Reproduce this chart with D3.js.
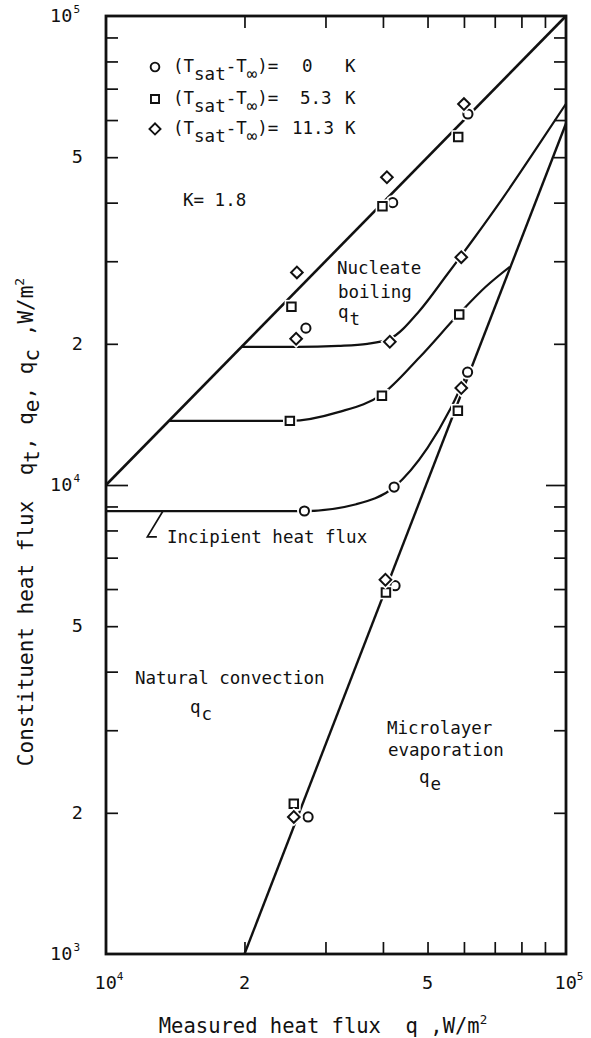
<!DOCTYPE html>
<html><head><meta charset="utf-8">
<script src="https://cdn.jsdelivr.net/npm/d3@7"></script>
<style>
body{margin:0;background:#fff}
svg{display:block}
text{font-family:"DejaVu Sans Mono","Liberation Mono",monospace;fill:#111;white-space:pre}
</style>
</head><body>
<svg id="c" width="591" height="1038"></svg>
<script>
// ---------- data ----------
const xDomain = [1e4, 1e5];
const yDomain = [1e3, 1e5];
const xMinorTicks = [2e4,3e4,4e4,5e4,6e4,7e4,8e4,9e4];
const yMinorTicks = [2e3,3e3,4e3,5e3,6e3,7e3,8e3,9e3,1e4,2e4,3e4,4e4,5e4,6e4,7e4,8e4,9e4];
const xTickLabels = [{v:1e4,b:"10",e:"4"},{v:2e4,b:"2",e:""},{v:5e4,b:"5",e:""},{v:1e5,b:"10",e:"5"}];
const yTickLabels = [{v:1e5,b:"10",e:"5"},{v:5e4,b:"5",e:""},{v:2e4,b:"2",e:""},{v:1e4,b:"10",e:"4"},{v:5e3,b:"5",e:""},{v:2e3,b:"2",e:""},{v:1e3,b:"10",e:"3"}];

// q_t = q line
const diagonalLine = [[1e4,1e4],[1e5,1e5]];
// microlayer evaporation q_e
const qeLine = [[2e4,1e3],[1e5,5.9e4]];
// nucleate boiling curves
const curveHigh = [[1.97e4,1.97e4],[2.6e4,1.97e4],[3.2e4,1.98e4],[3.7e4,2.0e4],[4.14e4,2.05e4],[4.8e4,2.35e4],[5.5e4,2.8e4],[6.3e4,3.35e4],[7.3e4,4.1e4],[8.6e4,5.2e4],[1e5,6.5e4]];
const curveMid = [[1.37e4,1.37e4],[2.51e4,1.37e4],[3.2e4,1.43e4],[3.98e4,1.56e4],[4.8e4,1.87e4],[5.86e4,2.32e4],[6.7e4,2.65e4],[7.55e4,2.92e4]];
const curveLow = [[1e4,8.8e3],[2.7e4,8.8e3],[3.5e4,9.1e3],[4.23e4,9.9e3],[5.0e4,1.2e4],[5.6e4,1.45e4],[6.11e4,1.74e4]];
const incipientPointer = [[1.33e4,8.8e3],[1.23e4,7.75e3],[1.29e4,7.75e3]];

// measured points
const circlePts = [[6.12e4,6.18e4],[4.2e4,4.0e4],[2.72e4,2.16e4],[2.7e4,8.8e3],[4.23e4,9.9e3],[6.11e4,1.74e4],[4.25e4,6.1e3],[2.75e4,1.96e3]];
const squarePts = [[5.83e4,5.52e4],[3.99e4,3.93e4],[2.53e4,2.40e4],[2.51e4,1.37e4],[3.98e4,1.55e4],[5.86e4,2.31e4],[5.82e4,1.44e4],[4.06e4,5.9e3],[2.56e4,2.09e3]];
const diamondPts = [[6.0e4,6.49e4],[4.08e4,4.53e4],[2.60e4,2.84e4],[2.59e4,2.05e4],[4.14e4,2.02e4],[5.92e4,3.06e4],[5.92e4,1.61e4],[4.05e4,6.28e3],[2.56e4,1.96e3]];

const legendValues = ["0","5.3","11.3"];

// ---------- drawing ----------
const svg = d3.select("#c");
const x = d3.scaleLog().domain(xDomain).range([106, 566]);
const y = d3.scaleLog().domain(yDomain).range([954, 16]);
const ink = "#111";

const line = d3.line().x(d=>x(d[0])).y(d=>y(d[1]));
const smooth = d3.line().x(d=>x(d[0])).y(d=>y(d[1])).curve(d3.curveMonotoneX);

// inward ticks via d3 axes
function ax(gen, tr){
  const g = svg.append("g").attr("transform", tr).call(gen);
  g.selectAll("text").remove();
  g.select(".domain").remove();
  g.selectAll("line").attr("stroke", ink).attr("stroke-width", 1.7);
  return g;
}
ax(d3.axisBottom(x).tickValues(xMinorTicks).tickSize(-12), `translate(0,${y(1e3)})`);
ax(d3.axisTop(x).tickValues(xMinorTicks).tickSize(-12), `translate(0,${y(1e5)})`);
const gl = ax(d3.axisLeft(y).tickValues(yMinorTicks).tickSize(-12), `translate(${x(1e4)},0)`);
gl.selectAll(".tick line").filter(d=>d===1e4).attr("x2", 22);
const gr = ax(d3.axisRight(y).tickValues(yMinorTicks).tickSize(-12), `translate(${x(1e5)},0)`);
gr.selectAll(".tick line").filter(d=>d===1e4).attr("x2", -20);

// frame
svg.append("rect").attr("x", x(1e4)).attr("y", y(1e5))
  .attr("width", x(1e5)-x(1e4)).attr("height", y(1e3)-y(1e5))
  .attr("fill","none").attr("stroke", ink).attr("stroke-width", 2.8);

// lines
const lg = svg.append("g").attr("fill","none").attr("stroke",ink).attr("stroke-width",2.2);
lg.append("path").attr("d", line(diagonalLine)).attr("stroke-width",2.6);
lg.append("path").attr("d", line(qeLine)).attr("stroke-width",2.4);
lg.append("path").attr("d", smooth(curveHigh));
lg.append("path").attr("d", smooth(curveMid));
lg.append("path").attr("d", smooth(curveLow));
lg.append("path").attr("d", line(incipientPointer)).attr("stroke-width",1.7);

// markers
const shapes = {
  circle: {sym: d3.symbolCircle, size: 66, rot: 0},
  square: {sym: d3.symbolSquare, size: 72, rot: 0},
  diamond: {sym: d3.symbolSquare, size: 68, rot: 45}
};
function markerPath(type, scale){
  const s = shapes[type];
  return d3.symbol().type(s.sym).size(s.size*scale)();
}
function drawMarkers(pts, type){
  const g = svg.append("g");
  const rot = shapes[type].rot;
  g.selectAll("path.h").data(pts).join("path").attr("class","h")
    .attr("transform", d=>`translate(${x(d[0])},${y(d[1])}) rotate(${rot})`)
    .attr("d", markerPath(type, 2.6)).attr("fill","#fff");
  g.selectAll("path.m").data(pts).join("path").attr("class","m")
    .attr("transform", d=>`translate(${x(d[0])},${y(d[1])}) rotate(${rot})`)
    .attr("d", markerPath(type, 1)).attr("fill","#fff").attr("stroke",ink).attr("stroke-width",2);
}
drawMarkers(circlePts, "circle");
drawMarkers(squarePts, "square");
drawMarkers(diamondPts, "diamond");

// tick labels
xTickLabels.forEach(t=>{
  const tx = svg.append("text").attr("x", x(t.v)+(t.e?3:0)).attr("y", 989)
    .attr("text-anchor","middle").attr("font-size",18.5).text(t.b);
  if(t.e) tx.append("tspan").attr("dy",-9).attr("font-size",11).text(t.e);
});
yTickLabels.forEach(t=>{
  const tx = svg.append("text").attr("x", t.e?80:83).attr("y", y(t.v)+6)
    .attr("text-anchor","end").attr("font-size",18.5).text(t.b);
  if(t.e) tx.append("tspan").attr("dy",-9).attr("font-size",11).attr("dx",1).text(t.e);
});

// legend
const legendTypes = ["circle","square","diamond"];
const legendY = [72, 104, 134];
legendTypes.forEach((tp,i)=>{
  const cy = legendY[i]-5;
  svg.append("path").attr("transform",`translate(155,${cy}) rotate(${shapes[tp].rot})`).attr("d", markerPath(tp, 0.9))
    .attr("fill","#fff").attr("stroke",ink).attr("stroke-width",1.9);
  const t = svg.append("text").attr("x",173).attr("y",legendY[i]).attr("font-size",17.5);
  t.append("tspan").text("(T");
  t.append("tspan").attr("dy",8).text("sat");
  t.append("tspan").attr("dy",-8).text("-T");
  t.append("tspan").attr("dy",8).text("∞");
  t.append("tspan").attr("dy",-8).text(")=");
  svg.append("text").attr("x",[302,300,292][i]).attr("y",legendY[i]).attr("font-size",17.5).text(legendValues[i]);
  svg.append("text").attr("x",345).attr("y",legendY[i]).attr("font-size",17.5).text("K");
});
svg.append("text").attr("x",183).attr("y",206).attr("font-size",17.5).text("K= 1.8");

// annotations
function ann(xp, yp, str, sub){
  const t = svg.append("text").attr("x",xp).attr("y",yp).attr("font-size",17.5).text(str);
  if(sub) t.append("tspan").attr("dy",7).attr("dx",1).text(sub);
  return t;
}
ann(337, 274, "Nucleate");
ann(338, 298, "boiling");
ann(338, 318, "q", "t");
ann(167, 543, "Incipient heat flux");
ann(135, 684, "Natural convection");
ann(190, 713, "q", "c");
ann(387, 734, "Microlayer");
ann(388, 756, "evaporation");
ann(419, 783, "q", "e");

// axis titles
const xt = svg.append("text").attr("x",323).attr("y",1033).attr("text-anchor","middle").attr("font-size",20.5)
  .text("Measured heat flux  q ,W/m");
xt.append("tspan").attr("dy",-9).attr("font-size",12.5).text("2");

const yt = svg.append("text").attr("transform","translate(33,522) rotate(-90)")
  .attr("text-anchor","middle").attr("font-size",21);
yt.append("tspan").text("Constituent heat flux  q");
yt.append("tspan").attr("dy",6).text("t");
yt.append("tspan").attr("dy",-6).text(", q");
yt.append("tspan").attr("dy",6).text("e");
yt.append("tspan").attr("dy",-6).text(", q");
yt.append("tspan").attr("dy",6).text("c");
yt.append("tspan").attr("dy",-6).text(" ,W/m");
yt.append("tspan").attr("dy",-9).attr("font-size",13).text("2");
</script>
</body></html>
